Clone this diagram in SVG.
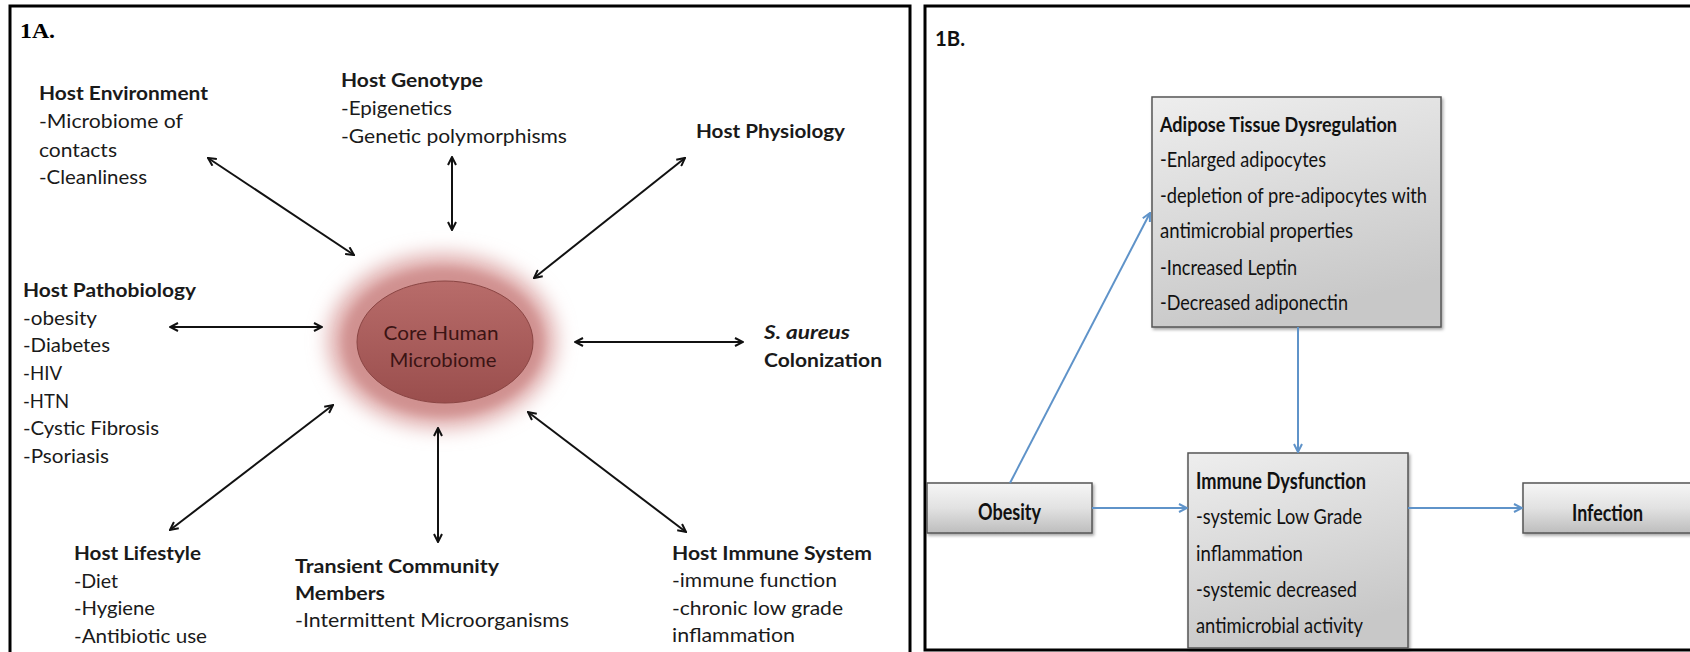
<svg xmlns="http://www.w3.org/2000/svg" width="1690" height="652" viewBox="0 0 1690 652">
<defs>
<style>
.t{font-family:Lato,"Liberation Sans",sans-serif;font-size:19px;fill:#1a1a1a}
.b{font-weight:bold}
.bt{font-family:Lato,"Liberation Sans",sans-serif;font-size:21px;fill:#111}
.blg{font-family:Lato,"Liberation Sans",sans-serif;font-size:23px;font-weight:bold;fill:#111}
.ib{font-family:Lato,"Liberation Sans",sans-serif;font-size:22px;fill:#111}
.conA{stroke:#111;stroke-width:2;fill:none;marker-start:url(#ha);marker-end:url(#ha)}
.conB{stroke:#5f93c9;stroke-width:2;fill:none;marker-end:url(#hb)}
.box{stroke:#555;stroke-width:1.5;filter:url(#sh)}
</style>
<marker id="ha" viewBox="0 0 10 10" refX="9" refY="5" markerWidth="10" markerHeight="10" markerUnits="userSpaceOnUse" orient="auto-start-reverse">
<path d="M1,1 L9,5 L1,9" fill="none" stroke="#111" stroke-width="2"/>
</marker>
<marker id="hb" viewBox="0 0 10 10" refX="9" refY="5" markerWidth="10" markerHeight="10" markerUnits="userSpaceOnUse" orient="auto">
<path d="M1,1 L9,5 L1,9" fill="none" stroke="#5f93c9" stroke-width="2"/>
</marker>
<linearGradient id="gs" x1="0" y1="0" x2="0" y2="1">
<stop offset="0" stop-color="#f6f6f6"/><stop offset="0.5" stop-color="#e2e2e2"/><stop offset="1" stop-color="#bdbdbd"/>
</linearGradient>
<linearGradient id="gl" x1="0" y1="0" x2="0.3" y2="1">
<stop offset="0" stop-color="#eeeeee"/><stop offset="1" stop-color="#c8c8c8"/>
</linearGradient>
<linearGradient id="ge" x1="0" y1="0" x2="0" y2="1">
<stop offset="0" stop-color="#b86c6a"/><stop offset="1" stop-color="#9a4e4d"/>
</linearGradient>
<filter id="glow" x="-50%" y="-50%" width="200%" height="200%">
<feGaussianBlur stdDeviation="10"/>
</filter>
<filter id="glow2" x="-50%" y="-50%" width="200%" height="200%">
<feGaussianBlur stdDeviation="5"/>
</filter>
<filter id="sh" x="-10%" y="-10%" width="130%" height="130%">
<feDropShadow dx="1.5" dy="2" stdDeviation="1.5" flood-color="#000" flood-opacity="0.35"/>
</filter>
</defs>
<rect width="1690" height="652" fill="#fff"/>

<g id="panelA">
<rect x="10" y="6" width="900" height="660" fill="none" stroke="#000" stroke-width="3"/>
<text x="20" y="38" font-family="'Liberation Serif',serif" font-weight="bold" font-size="21" textLength="35" lengthAdjust="spacingAndGlyphs">1A.</text>
</g>

<g id="core">
<ellipse cx="442" cy="341" rx="114" ry="87" fill="#dfabaa" filter="url(#glow)"/>
<ellipse cx="443" cy="342" rx="100" ry="74" fill="#d09190" filter="url(#glow2)"/>
<ellipse cx="445" cy="342" rx="88" ry="61" fill="url(#ge)" stroke="#8a4543" stroke-width="1"/>
<text x="441" y="340" class="t" font-size="20" text-anchor="middle" style="fill:#3b1414" textLength="115" lengthAdjust="spacingAndGlyphs">Core Human</text>
<text x="443" y="367" class="t" font-size="20" text-anchor="middle" style="fill:#3b1414" textLength="107" lengthAdjust="spacingAndGlyphs">Microbiome</text>
</g>

<g id="env">
<text x="39" y="100" class="t b" textLength="169" lengthAdjust="spacingAndGlyphs">Host Environment</text>
<text x="39" y="128" class="t" textLength="144" lengthAdjust="spacingAndGlyphs">-Microbiome of</text>
<text x="39" y="157" class="t" textLength="78" lengthAdjust="spacingAndGlyphs">contacts</text>
<text x="39" y="184" class="t" textLength="108" lengthAdjust="spacingAndGlyphs">-Cleanliness</text>
</g>
<g id="genotype">
<text x="341" y="87" class="t b" textLength="142" lengthAdjust="spacingAndGlyphs">Host Genotype</text>
<text x="341" y="115" class="t" textLength="111" lengthAdjust="spacingAndGlyphs">-Epigenetics</text>
<text x="341" y="143" class="t" textLength="226" lengthAdjust="spacingAndGlyphs">-Genetic polymorphisms</text>
</g>
<g id="physiology">
<text x="696" y="138" class="t b" textLength="149" lengthAdjust="spacingAndGlyphs">Host Physiology</text>
</g>
<g id="pathobiology">
<text x="23" y="297" class="t b" textLength="173" lengthAdjust="spacingAndGlyphs">Host Pathobiology</text>
<text x="23" y="325" class="t" textLength="74" lengthAdjust="spacingAndGlyphs">-obesity</text>
<text x="23" y="352" class="t" textLength="87" lengthAdjust="spacingAndGlyphs">-Diabetes</text>
<text x="23" y="380" class="t" textLength="39" lengthAdjust="spacingAndGlyphs">-HIV</text>
<text x="23" y="408" class="t" textLength="46" lengthAdjust="spacingAndGlyphs">-HTN</text>
<text x="23" y="435" class="t" textLength="136" lengthAdjust="spacingAndGlyphs">-Cystic Fibrosis</text>
<text x="23" y="463" class="t" textLength="86" lengthAdjust="spacingAndGlyphs">-Psoriasis</text>
</g>
<g id="saureus">
<text x="764" y="339" class="t b" font-style="italic" textLength="86" lengthAdjust="spacingAndGlyphs">S. aureus</text>
<text x="764" y="367" class="t b" textLength="118" lengthAdjust="spacingAndGlyphs">Colonization</text>
</g>
<g id="lifestyle">
<text x="74" y="560" class="t b" textLength="127" lengthAdjust="spacingAndGlyphs">Host Lifestyle</text>
<text x="74" y="588" class="t" textLength="44" lengthAdjust="spacingAndGlyphs">-Diet</text>
<text x="74" y="615" class="t" textLength="81" lengthAdjust="spacingAndGlyphs">-Hygiene</text>
<text x="74" y="643" class="t" textLength="133" lengthAdjust="spacingAndGlyphs">-Antibiotic use</text>
</g>
<g id="transient">
<text x="295" y="573" class="t b" textLength="204" lengthAdjust="spacingAndGlyphs">Transient Community</text>
<text x="295" y="600" class="t b" textLength="90" lengthAdjust="spacingAndGlyphs">Members</text>
<text x="295" y="627" class="t" textLength="274" lengthAdjust="spacingAndGlyphs">-Intermittent Microorganisms</text>
</g>
<g id="immune">
<text x="672" y="560" class="t b" textLength="200" lengthAdjust="spacingAndGlyphs">Host Immune System</text>
<text x="672" y="587" class="t" textLength="165" lengthAdjust="spacingAndGlyphs">-immune function</text>
<text x="672" y="615" class="t" textLength="171" lengthAdjust="spacingAndGlyphs">-chronic low grade</text>
<text x="672" y="642" class="t" textLength="123" lengthAdjust="spacingAndGlyphs">inflammation</text>
</g>

<g id="connectorsA">
<line class="conA" x1="208" y1="158" x2="354" y2="255"/>
<line class="conA" x1="452" y1="157" x2="452" y2="230"/>
<line class="conA" x1="685" y1="158" x2="534" y2="278"/>
<line class="conA" x1="170" y1="327" x2="322" y2="327"/>
<line class="conA" x1="575" y1="342" x2="743" y2="342"/>
<line class="conA" x1="170" y1="530" x2="333" y2="405"/>
<line class="conA" x1="438" y1="428" x2="438" y2="542"/>
<line class="conA" x1="528" y1="412" x2="686" y2="532"/>
</g>

<g id="panelB">
<rect x="925" y="6" width="780" height="644" fill="none" stroke="#000" stroke-width="3"/>
<text x="935" y="46" class="bt b" textLength="30" lengthAdjust="spacingAndGlyphs">1B.</text>
</g>

<g id="adipose">
<rect class="box" x="1152" y="97" width="289" height="230" fill="url(#gl)"/>
<text x="1160" y="132" class="bt b" textLength="237" lengthAdjust="spacingAndGlyphs">Adipose Tissue Dysregulation</text>
<text x="1160" y="167" class="bt" textLength="166" lengthAdjust="spacingAndGlyphs">-Enlarged adipocytes</text>
<text x="1160" y="203" class="bt" textLength="267" lengthAdjust="spacingAndGlyphs">-depletion of pre-adipocytes with</text>
<text x="1160" y="238" class="bt" textLength="193" lengthAdjust="spacingAndGlyphs">antimicrobial properties</text>
<text x="1160" y="275" class="bt" textLength="137" lengthAdjust="spacingAndGlyphs">-Increased Leptin</text>
<text x="1160" y="310" class="bt" textLength="188" lengthAdjust="spacingAndGlyphs">-Decreased adiponectin</text>
</g>
<g id="obesity">
<rect class="box" x="927" y="483" width="165" height="50" fill="url(#gs)"/>
<text x="978" y="520" class="blg" textLength="63" lengthAdjust="spacingAndGlyphs">Obesity</text>
</g>
<g id="immuneDys">
<rect class="box" x="1188" y="453" width="220" height="195" fill="url(#gl)"/>
<text x="1196" y="489" class="ib b" textLength="170" lengthAdjust="spacingAndGlyphs">Immune Dysfunction</text>
<text x="1196" y="524" class="ib" textLength="166" lengthAdjust="spacingAndGlyphs">-systemic Low Grade</text>
<text x="1196" y="561" class="ib" textLength="107" lengthAdjust="spacingAndGlyphs">inflammation</text>
<text x="1196" y="597" class="ib" textLength="161" lengthAdjust="spacingAndGlyphs">-systemic decreased</text>
<text x="1196" y="633" class="ib" textLength="167" lengthAdjust="spacingAndGlyphs">antimicrobial activity</text>
</g>
<g id="infection">
<rect class="box" x="1523" y="483" width="180" height="50" fill="url(#gs)"/>
<text x="1572" y="521" class="blg" textLength="71" lengthAdjust="spacingAndGlyphs">Infection</text>
</g>

<g id="connectorsB">
<line class="conB" x1="1010" y1="483" x2="1150" y2="213"/>
<line class="conB" x1="1298" y1="327" x2="1298" y2="452"/>
<line class="conB" x1="1092" y1="508" x2="1187" y2="508" stroke-width="3"/>
<line class="conB" x1="1408" y1="508" x2="1522" y2="508" stroke-width="3"/>
</g>
</svg>
